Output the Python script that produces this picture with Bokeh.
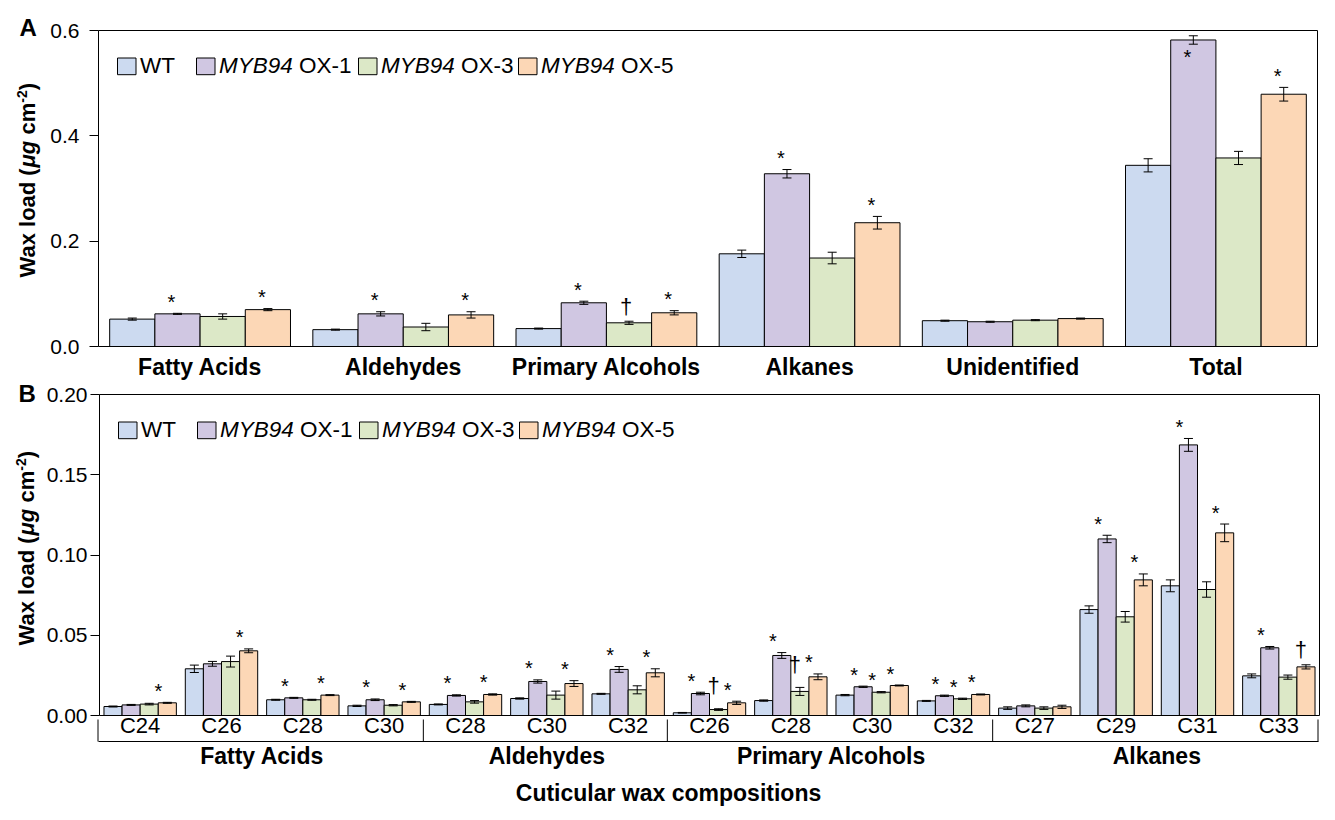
import math
from bokeh.plotting import figure
from bokeh.models import (ColumnDataSource, FixedTicker, Range1d, Whisker, TeeHead,
                          LinearAxis, NumeralTickFormatter)
from bokeh.layouts import column
from bokeh.embed import file_html
from bokeh.resources import INLINE
from bokeh.core.properties import value

# ---------------- data ----------------
series = ["WT", "MYB94 OX-1", "MYB94 OX-3", "MYB94 OX-5"]

classes_A = ["Fatty Acids", "Aldehydes", "Primary Alcohols", "Alkanes", "Unidentified", "Total"]
wt_A = [0.052, 0.032, 0.034, 0.176, 0.049, 0.344]
ox1_A = [0.062, 0.062, 0.083, 0.328, 0.047, 0.582]
ox3_A = [0.057, 0.037, 0.045, 0.168, 0.050, 0.358]
ox5_A = [0.070, 0.060, 0.064, 0.235, 0.053, 0.479]
wt_A_err = [0.002, 0.001, 0.001, 0.007, 0.001, 0.0125]
ox1_A_err = [0.001, 0.004, 0.003, 0.008, 0.001, 0.008]
ox3_A_err = [0.005, 0.007, 0.003, 0.011, 0.001, 0.0125]
ox5_A_err = [0.002, 0.006, 0.004, 0.012, 0.001, 0.013]
sig_A = [("Fatty Acids", "MYB94 OX-1", "*"), ("Fatty Acids", "MYB94 OX-5", "*"),
         ("Aldehydes", "MYB94 OX-1", "*"), ("Aldehydes", "MYB94 OX-5", "*"),
         ("Primary Alcohols", "MYB94 OX-1", "*"), ("Primary Alcohols", "MYB94 OX-3", "\u2020"),
         ("Primary Alcohols", "MYB94 OX-5", "*"),
         ("Alkanes", "MYB94 OX-1", "*"), ("Alkanes", "MYB94 OX-5", "*"),
         ("Total", "MYB94 OX-1", "*"), ("Total", "MYB94 OX-5", "*")]

groups_B = ["Fatty Acids", "Aldehydes", "Primary Alcohols", "Alkanes"]
chains_B = [["C24", "C26", "C28", "C30"],
            ["C28", "C30", "C32"],
            ["C26", "C28", "C30", "C32"],
            ["C27", "C29", "C31", "C33"]]
wt_B = [0.0056, 0.0291, 0.0098, 0.0060, 0.0069, 0.0106, 0.0135,
        0.0017, 0.0093, 0.0127, 0.0091, 0.0046, 0.0660, 0.0808, 0.0247]
ox1_B = [0.0066, 0.0322, 0.0110, 0.0098, 0.0125, 0.0212, 0.0287,
         0.0137, 0.0374, 0.0179, 0.0123, 0.0060, 0.1100, 0.1686, 0.0422]
ox3_B = [0.0071, 0.0336, 0.0098, 0.0064, 0.0085, 0.0127, 0.0160,
         0.0037, 0.0150, 0.0145, 0.0104, 0.0046, 0.0615, 0.0785, 0.0239]
ox5_B = [0.0079, 0.0403, 0.0127, 0.0085, 0.0131, 0.0199, 0.0266,
         0.0079, 0.0241, 0.0187, 0.0131, 0.0054, 0.0845, 0.1138, 0.0303]
wt_B_err = [0.0003, 0.0023, 0.0003, 0.0004, 0.0003, 0.0004, 0.0003,
            0.0002, 0.0004, 0.0004, 0.0003, 0.0008, 0.0023, 0.0037, 0.0012]
ox1_B_err = [0.0003, 0.0015, 0.0003, 0.0005, 0.0004, 0.0010, 0.0018,
             0.0008, 0.0018, 0.0004, 0.0004, 0.0006, 0.0023, 0.0040, 0.0008]
ox3_B_err = [0.0005, 0.0034, 0.0003, 0.0004, 0.0008, 0.0025, 0.0025,
             0.0005, 0.0025, 0.0004, 0.0004, 0.0008, 0.0033, 0.0048, 0.0013]
ox5_B_err = [0.0003, 0.0012, 0.0003, 0.0003, 0.0004, 0.0018, 0.0025,
             0.0010, 0.0018, 0.0003, 0.0003, 0.0010, 0.0037, 0.0055, 0.0013]
sig_B = [("Fatty Acids", "C24", "MYB94 OX-5", "*"), ("Fatty Acids", "C26", "MYB94 OX-5", "*"),
         ("Fatty Acids", "C28", "MYB94 OX-1", "*"), ("Fatty Acids", "C28", "MYB94 OX-5", "*"),
         ("Fatty Acids", "C30", "MYB94 OX-1", "*"), ("Fatty Acids", "C30", "MYB94 OX-5", "*"),
         ("Aldehydes", "C28", "MYB94 OX-1", "*"), ("Aldehydes", "C28", "MYB94 OX-5", "*"),
         ("Aldehydes", "C30", "MYB94 OX-1", "*"), ("Aldehydes", "C30", "MYB94 OX-5", "*"),
         ("Aldehydes", "C32", "MYB94 OX-1", "*"), ("Aldehydes", "C32", "MYB94 OX-5", "*"),
         ("Primary Alcohols", "C26", "MYB94 OX-1", "*"), ("Primary Alcohols", "C26", "MYB94 OX-3", "\u2020"),
         ("Primary Alcohols", "C26", "MYB94 OX-5", "*"),
         ("Primary Alcohols", "C28", "MYB94 OX-1", "*"), ("Primary Alcohols", "C28", "MYB94 OX-3", "\u2020"),
         ("Primary Alcohols", "C28", "MYB94 OX-5", "*"),
         ("Primary Alcohols", "C30", "MYB94 OX-1", "*"), ("Primary Alcohols", "C30", "MYB94 OX-3", "*"),
         ("Primary Alcohols", "C30", "MYB94 OX-5", "*"),
         ("Primary Alcohols", "C32", "MYB94 OX-1", "*"), ("Primary Alcohols", "C32", "MYB94 OX-3", "*"),
         ("Primary Alcohols", "C32", "MYB94 OX-5", "*"),
         ("Alkanes", "C29", "MYB94 OX-1", "*"), ("Alkanes", "C29", "MYB94 OX-5", "*"),
         ("Alkanes", "C31", "MYB94 OX-1", "*"), ("Alkanes", "C31", "MYB94 OX-5", "*"),
         ("Alkanes", "C33", "MYB94 OX-1", "*"), ("Alkanes", "C33", "MYB94 OX-5", "\u2020")]

# ---------------- style ----------------
FONT = "Liberation Sans"
colors = ["#CCDAF0", "#D0C7E2", "#DCE8C7", "#FCD7B6"]
W = 1335
A_H, B_H = 380, 440
BW = 0.2225  # bar width in category units
inside_A = {("Total", "MYB94 OX-1")}
lift_B = {("Primary Alcohols", "C26", "MYB94 OX-3"): 8,
          ("Primary Alcohols", "C28", "MYB94 OX-3"): 8}


class Panel:
    """Figure whose frame fills the canvas; plot box given in canvas pixels."""

    def __init__(self, height, box, nx, ymax):
        self.left, self.right, self.top, self.bottom = box
        self.sx = (self.right - self.left) / nx
        self.sy = (self.bottom - self.top) / ymax
        self.nx, self.ymax = nx, ymax
        xr = Range1d(self.dx(0), self.dx(W))
        yr = Range1d(self.dy(height), self.dy(0))
        p = figure(width=W, height=height, x_range=xr, y_range=yr,
                   output_backend="svg", toolbar_location=None,
                   min_border=0, min_border_left=0, min_border_right=0,
                   min_border_top=0, min_border_bottom=0)
        p.xgrid.visible = False
        p.ygrid.visible = False
        p.outline_line_color = None
        p.background_fill_color = "white"
        p.border_fill_color = "white"
        self.p = p

    def dx(self, px):
        return (px - self.left) / self.sx

    def dy(self, py):
        return (self.bottom - py) / self.sy


def style_axis(ax, size, bold=False):
    ax.axis_line_color = "black"
    ax.axis_line_width = 1
    ax.minor_tick_line_color = None
    ax.major_tick_in = 0
    ax.major_label_text_color = "black"
    ax.major_label_text_font = FONT
    ax.major_label_text_font_size = size
    ax.major_label_text_font_style = "bold" if bold else "normal"


def style_cat_axis(ax, size, bold, standoff):
    style_axis(ax, size, bold)
    ax.major_tick_line_color = None
    ax.major_tick_out = 0
    ax.major_label_standoff = standoff


def setup_y(P, ticks, fmt, standoff):
    ax = P.p.yaxis[0]
    ax.fixed_location = 0
    ax.bounds = (0, P.ymax)
    ax.ticker = FixedTicker(ticks=ticks)
    ax.formatter = NumeralTickFormatter(format=fmt)
    style_axis(ax, "21px")
    ax.major_tick_line_color = "black"
    ax.major_tick_out = 9
    ax.major_label_standoff = standoff
    # top and right border of the plot box
    P.p.segment(x0=[0, P.nx], y0=[P.ymax, 0], x1=[P.nx, P.nx], y1=[P.ymax, P.ymax],
                line_color="black", line_width=1)


def draw_bars(p, n, vals, errs):
    for k in range(4):
        xs = [i + 0.5 + (k - 1.5) * BW for i in range(n)]
        src = ColumnDataSource(dict(x=xs, top=vals[k],
                                    upper=[v + e for v, e in zip(vals[k], errs[k])],
                                    lower=[v - e for v, e in zip(vals[k], errs[k])]))
        p.vbar(x="x", top="top", bottom=0, width=BW, source=src,
               fill_color=colors[k], line_color="black", line_width=1)
        p.add_layout(Whisker(source=src, base="x", upper="upper", lower="lower",
                             dimension="height", line_color="black", line_width=1,
                             level="annotation",
                             upper_head=TeeHead(size=9, line_color="black", line_width=1),
                             lower_head=TeeHead(size=9, line_color="black", line_width=1)))


def draw_marks(p, items, vals, errs, star_dx, dag_dx, inside=(), lift=None):
    lift = lift or {}
    data = {"*": dict(x=[], y=[], t=[], xo=[], yo=[]), "\u2020": dict(x=[], y=[], t=[], xo=[], yo=[])}
    for ci, k, mark, key in items:
        d = data[mark]
        v, e = vals[k][ci], errs[k][ci]
        d["x"].append(ci + 0.5 + (k - 1.5) * BW)
        d["t"].append(mark)
        if key in inside:
            d["y"].append(v)
            d["yo"].append(17)
        elif mark == "*":
            d["y"].append(v + e)
            d["yo"].append(-11.5)
        else:
            d["y"].append(v + e)
            d["yo"].append(-15 - lift.get(key, 0))
        d["xo"].append(star_dx if mark == "*" else dag_dx)
    for mark, fs in (("*", "20px"), ("\u2020", "22px")):
        p.text(x="x", y="y", text="t", x_offset="xo", y_offset="yo",
               source=ColumnDataSource(data[mark]),
               text_align="center", text_baseline="middle", text_color="black",
               text_font=value(FONT), text_font_size=fs)


def txt(P, px, py, s, size, style="normal", align="left", angle=0.0):
    """Text whose vertical centre (cap-middle) sits at canvas pixel py."""
    P.p.text(x=[P.dx(px)], y=[P.dy(py)], text=[s], angle=angle, text_align=align,
             text_baseline="middle", text_font=value(FONT), text_font_style=style,
             text_font_size=size, text_color="black")


def draw_legend(P):
    key_left = [19, 98, 260, 420]
    for k, name in enumerate(series):
        l = P.left + key_left[k]
        t = P.top + 27.5
        P.p.quad(left=[P.dx(l)], right=[P.dx(l + 18.5)], top=[P.dy(t)],
                 bottom=[P.dy(t + 16.7)], fill_color=colors[k],
                 line_color="black", line_width=1)
        tx, ty = l + 22.5, P.top + 34.7
        if name == "WT":
            txt(P, tx, ty, name, "22.5px")
        else:
            gene, rest = name.split(" ", 1)
            txt(P, tx, ty, gene, "22.5px", style="italic")
            txt(P, tx + (3.279 + 0.278) * 22.5, ty, rest, "22.5px")


def draw_ylabel(P, x, y0):
    pieces = [("Wax load (", "bold", 22, 0, 5.001), ("\u03bcg", "bold italic", 22, 0, 1.222),
              ("cm", "bold", 22, 0, 1.445), ("-2", "bold", 14, -6, 0.889),
              (")", "bold", 22, 0, 0.333)]
    y = y0
    for t, st, fsz, dxp, em in pieces:
        if t == "cm":
            y -= 0.278 * 22
        txt(P, x + dxp, y, t, f"{fsz}px", style=st, angle=math.pi / 2)
        y -= em * fsz


# ---------------- panel A ----------------
nA = len(classes_A)
PA = Panel(A_H, (98, 1317, 30, 346), nA, 0.6)
pA = PA.p
axA = pA.xaxis[0]
axA.fixed_location = 0
axA.bounds = (0, nA)
axA.ticker = FixedTicker(ticks=[i + 0.5 for i in range(nA)])
axA.major_label_overrides = {i + 0.5: c for i, c in enumerate(classes_A)}
style_cat_axis(axA, "23px", True, 7)
setup_y(PA, [0, 0.2, 0.4, 0.6], "0.0", 10)

valsA = [wt_A, ox1_A, ox3_A, ox5_A]
errsA = [wt_A_err, ox1_A_err, ox3_A_err, ox5_A_err]
draw_bars(pA, nA, valsA, errsA)
itemsA = [(classes_A.index(c), series.index(s), m, (c, s)) for c, s, m in sig_A]
draw_marks(pA, itemsA, valsA, errsA, -6, -3, inside=inside_A)
draw_legend(PA)
draw_ylabel(PA, 27, 277)
txt(PA, 19, 26.5, "A", "24px", style="bold")

# ---------------- panel B ----------------
cats_B = [(g, c) for g, cl in zip(groups_B, chains_B) for c in cl]
nB = len(cats_B)
PB = Panel(B_H, (99, 1319, 14, 335), nB, 0.2)
pB = PB.p
bounds = []
acc = 0
for cl in chains_B:
    bounds.append((acc, acc + len(cl)))
    acc += len(cl)

axC = pB.xaxis[0]
axC.fixed_location = 0
axC.bounds = (0, nB)
axC.ticker = FixedTicker(ticks=[i + 0.5 for i in range(nB)])
axC.major_label_overrides = {i + 0.5: c for i, (g, c) in enumerate(cats_B)}
style_cat_axis(axC, "22px", False, -3)

bracket_py = 361
bracket_dx = -1.5
y_br = PB.dy(bracket_py)
axG = LinearAxis(fixed_location=y_br,
                 bounds=(PB.dx(PB.left + bracket_dx), PB.dx(PB.right + bracket_dx)),
                 ticker=FixedTicker(ticks=[(a + b) / 2 for a, b in bounds]),
                 major_label_overrides={(a + b) / 2: g for (a, b), g in zip(bounds, groups_B)})
style_cat_axis(axG, "23px", True, 1)
pB.add_layout(axG, "below")

edges = [0] + [b for a, b in bounds]
pB.segment(x0=[PB.dx(PB.left + e * PB.sx + bracket_dx) for e in edges], y0=[y_br] * len(edges),
           x1=[PB.dx(PB.left + e * PB.sx + bracket_dx) for e in edges],
           y1=[PB.dy(bracket_py - 22)] * len(edges), line_color="black", line_width=1)
setup_y(PB, [0, 0.05, 0.10, 0.15, 0.20], "0.00", 3)

valsB = [wt_B, ox1_B, ox3_B, ox5_B]
errsB = [wt_B_err, ox1_B_err, ox3_B_err, ox5_B_err]
draw_bars(pB, nB, valsB, errsB)
itemsB = [(cats_B.index((g, c)), series.index(s), m, (g, c, s)) for g, c, s, m in sig_B]
draw_marks(pB, itemsB, valsB, errsB, -9, -5, lift=lift_B)
draw_legend(PB)
draw_ylabel(PB, 26, 265)
txt(PB, 18, 13, "B", "24px", style="bold")
txt(PB, 668, 412.5, "Cuticular wax compositions", "23px", style="bold", align="center")

layout = column(pA, pB, spacing=0)
open("out.html", "w").write(file_html(layout, INLINE))
